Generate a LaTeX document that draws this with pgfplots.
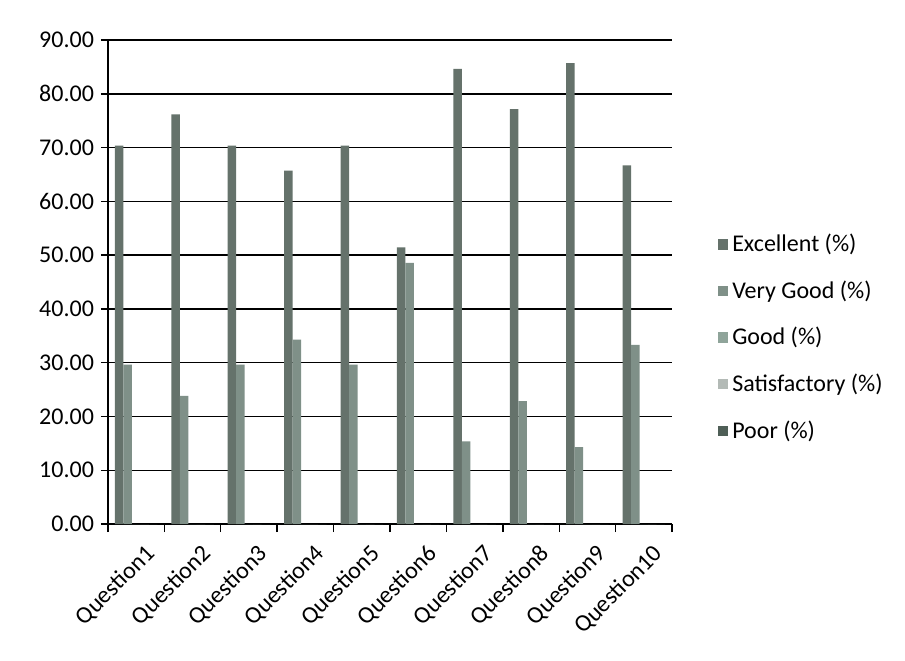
\documentclass[border=0pt]{standalone}
\usepackage{pgfplots}
\usepackage{pgfplotstable}
\pgfplotsset{compat=1.18}
\usepackage{fontspec}
\setmainfont{Carlito}

\definecolor{cExc}{HTML}{65726B}
\definecolor{cVg}{HTML}{7F9088}
\definecolor{cGood}{HTML}{8FA49A}
\definecolor{cSat}{HTML}{B3BAB6}
\definecolor{cPoor}{HTML}{4F5F57}

\pgfplotstableread{
x   exc    vg     good sat poor
0   70.37  29.63  0    0   0
1   76.19  23.81  0    0   0
2   70.37  29.63  0    0   0
3   65.71  34.29  0    0   0
4   70.37  29.63  0    0   0
5   51.43  48.57  0    0   0
6   84.62  15.38  0    0   0
7   77.14  22.86  0    0   0
8   85.71  14.29  0    0   0
9   66.67  33.33  0    0   0
}\survey

\begin{document}
\begin{tikzpicture}
\fill[white] (-54pt,-68pt) rectangle (398.5pt,262pt);
\useasboundingbox (-54pt,-68pt) rectangle (398.5pt,262pt);
\begin{axis}[
  scale only axis,
  width=282pt, height=242pt,
  ybar=0pt, bar width=4.25pt,
  xmin=-0.5, xmax=9.5,
  ymin=0, ymax=90,
  ytick={0,10,...,90},
  yticklabel style={/pgf/number format/.cd, fixed, fixed zerofill, precision=2, assume math mode=true},
  ymajorgrids,
  grid style={black, line width=0.7pt},
  axis x line*=bottom, axis y line*=left,
  axis line style={black, line width=0.7pt},
  tick align=outside,
  major tick length=3.5pt,
  minor tick length=4pt,
  tick style={black, line width=0.7pt},
  xtick={0,...,9},
  xticklabels={Question1,Question2,Question3,Question4,Question5,Question6,Question7,Question8,Question9,Question10},
  major x tick style={draw=none},
  minor xtick={-0.5,0.5,...,9.5},
  every tick label/.append style={font=\fontsize{12}{14}\selectfont},
  xticklabel style={rotate=45, anchor=east, xshift=2pt, yshift=-12pt},
  area legend,
  legend image code/.code={\fill[#1] (0pt,-2.6pt) rectangle (5.2pt,2.6pt);},
  legend style={at={(1.07,0.385)}, anchor=west, draw=none, fill=none,
    font=\fontsize{12}{14}\selectfont, row sep=9pt, legend cell align=left},
]
\addplot[fill=cExc, draw=none] table[x=x, y=exc] {\survey};
\addplot[fill=cVg, draw=none] table[x=x, y=vg] {\survey};
\addplot[fill=cGood, draw=none] table[x=x, y=good] {\survey};
\addplot[fill=cSat, draw=none] table[x=x, y=sat] {\survey};
\addplot[fill=cPoor, draw=none] table[x=x, y=poor] {\survey};
\legend{Excellent (\%), Very Good (\%), Good (\%), Satisfactory (\%), Poor (\%)}
\end{axis}
\end{tikzpicture}
\end{document}
